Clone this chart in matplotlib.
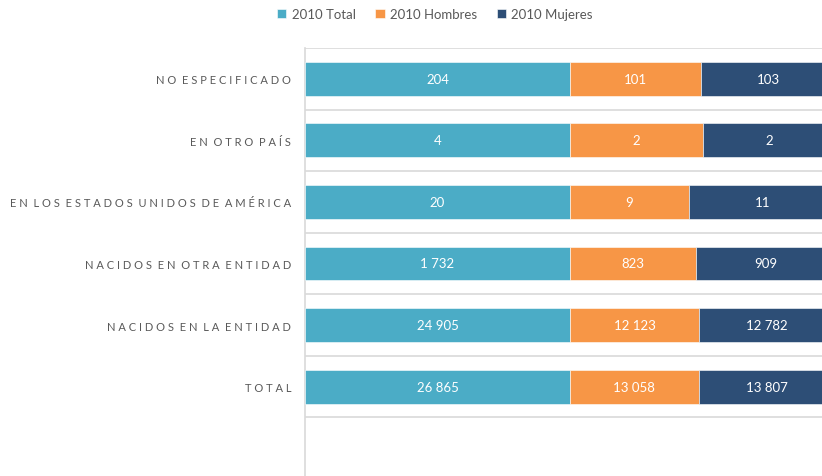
import matplotlib
matplotlib.use("Agg")
import matplotlib.pyplot as plt
import numpy as np

categories = ["TOTAL", "NACIDOS EN LA ENTIDAD", "NACIDOS EN OTRA ENTIDAD",
              "EN LOS ESTADOS UNIDOS DE AMÉRICA", "EN OTRO PAÍS", "NO ESPECIFICADO"]
total = [26865, 24905, 1732, 20, 4, 204]
hombres = [13058, 12123, 823, 9, 2, 101]
mujeres = [13807, 12782, 909, 11, 2, 103]
series_names = ["2010 Total", "2010 Hombres", "2010 Mujeres"]
colors = ["#4BACC6", "#F79646", "#2D4E76"]

def fmt(v):
    return f"{v:,}".replace(",", " ")

def spaced(s):
    words = s.split(" ")
    return "  ".join(" ".join(list(w)) for w in words)

plt.rcParams['font.family'] = ['Lato', 'DejaVu Sans']
fig = plt.figure(figsize=(8.22, 4.77), dpi=100)
W, H = 822, 477
left, right = 305, 835
top, bottom = 49, 480
ax = fig.add_axes([left / W, 1 - bottom / H, (right - left) / W, (bottom - top) / H])

data = np.array([total, hombres, mujeres], dtype=float)
sums = data.sum(axis=0)
frac = data / sums
y = np.arange(len(categories))
lefts = np.zeros(len(categories))
for i, (name, col) in enumerate(zip(series_names, colors)):
    bars = ax.barh(y, frac[i], left=lefts, height=0.55, color=col, label=name,
                   edgecolor="white", linewidth=0.4, zorder=3)
    vals = data[i].astype(int)
    for b, v in zip(bars, vals):
        cx = b.get_x() + b.get_width() / 2
        ax.text(cx, b.get_y() + b.get_height() / 2, fmt(v), ha="center", va="center",
                color="white", fontsize=9.5, zorder=4)
    lefts += frac[i]

ax.set_xlim(0, 1)
ax.set_ylim(-1.5, len(categories) - 0.5)
ax.set_yticks(y)
ax.set_yticklabels([spaced(c) for c in categories], fontsize=8, color="#595959")
ax.tick_params(axis="y", length=0, pad=10)
ax.set_xticks([])
for yy in np.arange(-0.5, len(categories), 1.0):
    ax.axhline(yy, color="#D9D9D9", linewidth=1.2, zorder=1)
for s in ["top", "right", "bottom"]:
    ax.spines[s].set_visible(False)
ax.spines["left"].set_color("#D9D9D9")
ax.spines["left"].set_linewidth(1.2)

leg = fig.legend(loc="center", bbox_to_anchor=(435 / W, 1 - 15 / H), ncol=3, frameon=False,
                 fontsize=9.5, handlelength=0.7, handleheight=0.7, handletextpad=0.4,
                 columnspacing=1.5)
for t in leg.get_texts():
    t.set_color("#595959")

fig.savefig("out.png", dpi=100)
